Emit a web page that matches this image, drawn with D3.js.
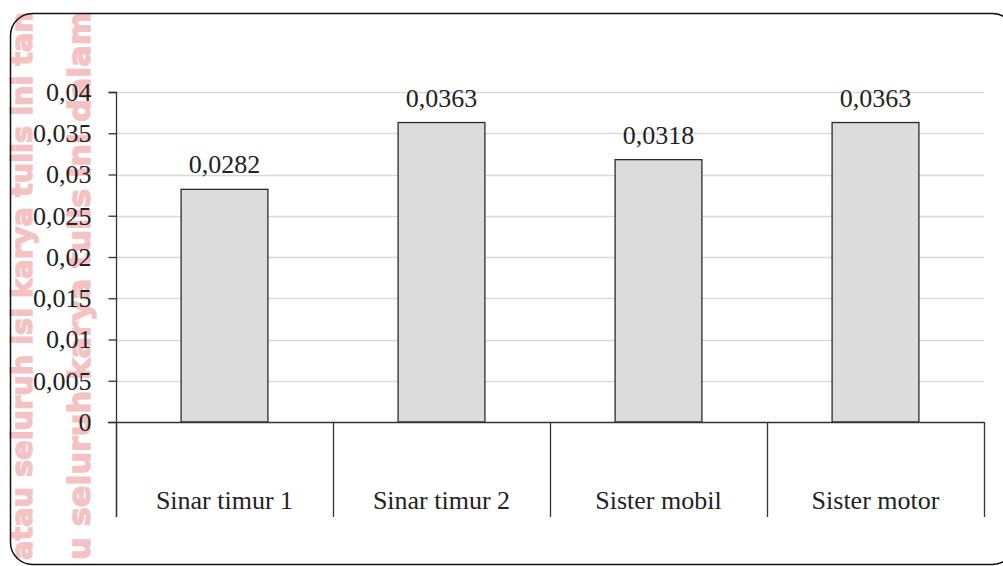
<!DOCTYPE html>
<html>
<head>
<meta charset="utf-8">
<script src="https://cdn.jsdelivr.net/npm/d3@7"></script>
<style>
  html, body { margin: 0; padding: 0; background: #fff; }
  svg { display: block; }
</style>
</head>
<body>
<svg id="chart" width="1003" height="566"></svg>
<script>
// Chart data
const categories = ["Sinar timur 1", "Sinar timur 2", "Sister mobil", "Sister motor"];
const values = [0.0282, 0.0363, 0.0318, 0.0363];
const yTicks = [0, 0.005, 0.01, 0.015, 0.02, 0.025, 0.03, 0.035, 0.04];
const yTickLabels = ["0", "0,005", "0,01", "0,015", "0,02", "0,025", "0,03", "0,035", "0,04"];
const valueLabels = ["0,0282", "0,0363", "0,0318", "0,0363"];
const stampLines = [
  "atau seluruh isi karya tulis ini tan",
  "u seluruh karya tulis ini dalam"
];

const W = 1003, H = 566;
const svg = d3.select("#chart");
const font = "'Liberation Serif', 'Times New Roman', serif";
const ink = "#222";

// Page stamp running up the left margin
const stampBase = [32, 90];
const stampSize = [28, 31];
stampLines.forEach((t, i) => {
  svg.append("text")
    .attr("transform", `translate(${stampBase[i]},${H - 6}) rotate(-90)`)
    .attr("font-family", "'DejaVu Sans', sans-serif")
    .attr("font-weight", "bold")
    .attr("font-size", stampSize[i])
    .attr("textLength", 548)
    .attr("lengthAdjust", "spacingAndGlyphs")
    .attr("fill", "#f4c2c2")
    .attr("stroke", "#f4c2c2")
    .attr("stroke-width", 1.4)
    .text(t);
});

// Rounded chart frame (right edge runs past the page)
svg.append("rect")
  .attr("x", 10.5).attr("y", 13.5)
  .attr("width", 1004).attr("height", 551)
  .attr("rx", 22).attr("ry", 22)
  .attr("fill", "none")
  .attr("stroke", "#111")
  .attr("stroke-width", 1.5);

// Plot area
const plot = { left: 116, right: 984, top: 92, bottom: 422, catBottom: 517 };

const y = d3.scaleLinear().domain([0, 0.04]).range([plot.bottom, plot.top]);
const x = d3.scaleBand().domain(categories).range([plot.left, plot.right]).paddingInner(0).paddingOuter(0);
const barW = x.bandwidth() / 2.5;

// Horizontal gridlines
svg.append("g")
  .selectAll("line")
  .data(yTicks.filter(d => d > 0))
  .join("line")
  .attr("x1", plot.left).attr("x2", plot.right)
  .attr("y1", d => Math.round(y(d)) + 0.5).attr("y2", d => Math.round(y(d)) + 0.5)
  .attr("stroke", "#d9d9d9")
  .attr("stroke-width", 1.3);

// Bars
svg.append("g")
  .selectAll("rect")
  .data(values)
  .join("rect")
  .attr("x", (d, i) => x(categories[i]) + (x.bandwidth() - barW) / 2)
  .attr("y", d => y(d))
  .attr("width", barW)
  .attr("height", d => y(0) - y(d))
  .attr("fill", "#dcdcdc")
  .attr("stroke", "#2b2b2b")
  .attr("stroke-width", 1.3);

// Value labels
svg.append("g")
  .selectAll("text")
  .data(values)
  .join("text")
  .attr("x", (d, i) => x(categories[i]) + x.bandwidth() / 2)
  .attr("y", d => y(d) - 16)
  .attr("text-anchor", "middle")
  .attr("font-family", font)
  .attr("font-size", 26)
  .attr("fill", ink)
  .text((d, i) => valueLabels[i]);

// Y axis
const yAxis = d3.axisLeft(y)
  .tickValues(yTicks)
  .tickSize(8)
  .tickPadding(17)
  .tickFormat((d, i) => yTickLabels[i]);

const gy = svg.append("g")
  .attr("transform", `translate(${plot.left + 0.5},0)`)
  .call(yAxis);
gy.select(".domain").attr("stroke", "#333").attr("stroke-width", 1.3).attr("d", `M-8,${plot.top + 0.5}H0V${plot.catBottom}`);
gy.selectAll(".tick line").attr("stroke", "#333").attr("stroke-width", 1.3);
gy.selectAll(".tick text")
  .attr("font-family", font)
  .attr("font-size", 26)
  .attr("fill", ink);

// Category axis: baseline with dividers between categories
const gx = svg.append("g");
gx.append("line")
  .attr("x1", plot.left - 8).attr("x2", plot.right)
  .attr("y1", y(0) + 0.5).attr("y2", y(0) + 0.5)
  .attr("stroke", "#333").attr("stroke-width", 1.3);
const dividers = categories.map(c => x(c)).concat([x(categories[categories.length - 1]) + x.bandwidth()]);
gx.selectAll("line.div")
  .data(dividers)
  .join("line")
  .attr("class", "div")
  .attr("x1", d => Math.round(d) + 0.5).attr("x2", d => Math.round(d) + 0.5)
  .attr("y1", y(0)).attr("y2", plot.catBottom)
  .attr("stroke", "#333").attr("stroke-width", 1.3);
gx.selectAll("text")
  .data(categories)
  .join("text")
  .attr("x", d => x(d) + x.bandwidth() / 2)
  .attr("y", 509)
  .attr("text-anchor", "middle")
  .attr("font-family", font)
  .attr("font-size", 26)
  .attr("fill", ink)
  .text(d => d);
</script>
</body>
</html>
